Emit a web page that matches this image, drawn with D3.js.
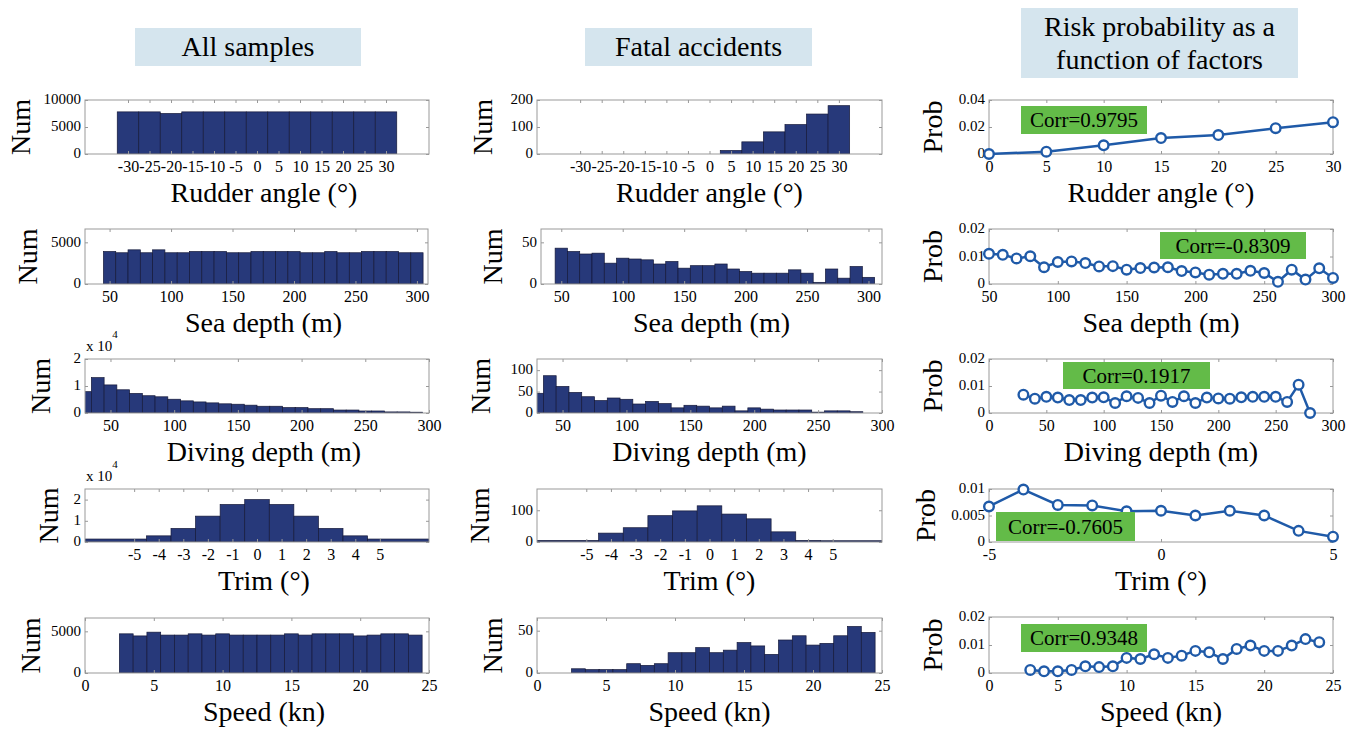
<!DOCTYPE html>
<html>
<head>
<meta charset="utf-8">
<script src="https://cdn.jsdelivr.net/npm/d3@7"></script>
<style>
  body { margin: 0; background: #fff; }
  svg { display: block; font-family: "Liberation Serif", "Times New Roman", serif; }
  svg text { font-family: "Liberation Serif", "Times New Roman", serif; }
</style>
</head>
<body>
<svg id="chart" width="1352" height="731"></svg>
<script>
// ---- datos ----
const headers = ["All samples", "Fatal accidents", ["Risk probability as a", "function of factors"]];
const xLabels = ["Rudder angle (°)", "Sea depth (m)", "Diving depth (m)", "Trim (°)", "Speed (kn)"];

const rudderCenters = [-30, -25, -20, -15, -10, -5, 0, 5, 10, 15, 20, 25, 30];
const rudderAll = [7800, 7800, 7500, 7800, 7800, 7800, 7800, 7800, 7800, 7800, 7800, 7800, 7800];
const rudderFatal = [0, 0, 0, 0, 0, 0, 0, 13, 45, 82, 109, 148, 179];

const seaCenters = [50, 60, 70, 80, 90, 100, 110, 120, 130, 140, 150, 160, 170, 180, 190, 200, 210, 220, 230, 240, 250, 260, 270, 280, 290, 300];
const seaAll = [3900, 3750, 4100, 3750, 4100, 3750, 3750, 3900, 3900, 3900, 3750, 3750, 3900, 3900, 3900, 3900, 3750, 3750, 3900, 3750, 3750, 3900, 3900, 3900, 3750, 3750];
const seaFatal = [43, 39, 36, 37, 25, 31, 30, 29, 24, 27, 19, 22, 22, 24, 18, 15, 13, 13, 13, 17, 13, 2, 18, 7, 21, 8];

const divingCenters = [30, 40, 50, 60, 70, 80, 90, 100, 110, 120, 130, 140, 150, 160, 170, 180, 190, 200, 210, 220, 230, 240, 250, 260, 270, 280, 290];
const divingAll = [7900, 13100, 10400, 8600, 7250, 6400, 6000, 5100, 4500, 4100, 3750, 3400, 3250, 2900, 2500, 2500, 2000, 2000, 1600, 1600, 1100, 1100, 750, 750, 400, 400, 300];
const divingFatal = [46, 87, 62, 48, 38, 29, 35, 32, 21, 27, 22, 12, 18, 16, 12, 16, 5, 12, 9, 7, 7, 7, 2, 5, 5, 3, 0];

const trimEdges = [-7, -4.5, -3.5, -2.5, -1.5, -0.5, 0.5, 1.5, 2.5, 3.5, 4.5, 7];
const trimAll = [1400, 2900, 6400, 12200, 17700, 20000, 17700, 12200, 6400, 2900, 1400];
const trimFatal = [5, 28, 45, 83, 98, 114, 88, 73, 32, 5, 4];

const speedCenters = [3, 4, 5, 6, 7, 8, 9, 10, 11, 12, 13, 14, 15, 16, 17, 18, 19, 20, 21, 22, 23, 24];
const speedAll = [4700, 4450, 4900, 4550, 4550, 4700, 4550, 4700, 4550, 4550, 4550, 4550, 4700, 4550, 4700, 4700, 4700, 4450, 4550, 4700, 4700, 4550];
const speedFatal = [5, 4, 4, 4, 11, 9, 11, 24, 24, 30, 24, 27, 36, 32, 22, 39, 44, 33, 35, 44, 55, 48];

const rudderProbX = [0, 5, 10, 15, 20, 25, 30];
const rudderProb = [0, 0.0017, 0.0064, 0.0118, 0.014, 0.0191, 0.0236];
const seaProbX = [50, 60, 70, 80, 90, 100, 110, 120, 130, 140, 150, 160, 170, 180, 190, 200, 210, 220, 230, 240, 250, 260, 270, 280, 290, 300];
const seaProb = [0.011, 0.0106, 0.0093, 0.0101, 0.0061, 0.008, 0.0082, 0.0076, 0.0064, 0.0065, 0.0052, 0.0058, 0.006, 0.0061, 0.0047, 0.0042, 0.0034, 0.0037, 0.0037, 0.0048, 0.004, 0.0008, 0.0052, 0.0016, 0.0057, 0.0022];
const divingProbX = [30, 40, 50, 60, 70, 80, 90, 100, 110, 120, 130, 140, 150, 160, 170, 180, 190, 200, 210, 220, 230, 240, 250, 260, 270, 280];
const divingProb = [0.0068, 0.0053, 0.006, 0.0057, 0.0048, 0.0048, 0.0057, 0.0058, 0.0037, 0.0062, 0.0056, 0.0037, 0.0064, 0.0041, 0.0062, 0.0037, 0.0057, 0.0054, 0.0053, 0.0058, 0.006, 0.006, 0.006, 0.0041, 0.0105, 0];
const trimProbX = [-5, -4, -3, -2, -1, 0, 1, 2, 3, 4, 5];
const trimProb = [0.0067, 0.0099, 0.007, 0.0069, 0.0058, 0.0059, 0.005, 0.0059, 0.005, 0.0021, 0.001];
const speedProbX = [3, 4, 5, 6, 7, 8, 9, 10, 11, 12, 13, 14, 15, 16, 17, 18, 19, 20, 21, 22, 23, 24];
const speedProb = [0.0011, 0.0006, 0.0006, 0.0011, 0.0024, 0.0021, 0.0024, 0.0054, 0.005, 0.0067, 0.0054, 0.0062, 0.0079, 0.0074, 0.005, 0.0086, 0.0098, 0.0079, 0.0079, 0.0098, 0.0121, 0.011];

const corrLabels = ["Corr=0.9795", "Corr=-0.8309", "Corr=0.1917", "Corr=-0.7605", "Corr=0.9348"];

// ---- estilos y posiciones ----
const FUENTE = "Liberation Serif";
const COLOR_BARRA = "#27397a";
const COLOR_LINEA = "#1f5aa8";
const COLOR_CAJA = "#999";
const COLOR_CORR = "#63bb48";
const COLOR_TITULO = "#d5e5ee";

const svg = d3.select("#chart");

function binsFromCenters(centers, values, w) {
  return centers.map((c, i) => ({ x0: c - w / 2, x1: c + w / 2, v: values[i] }));
}
function binsFromEdges(edges, values) {
  return values.map((v, i) => ({ x0: edges[i], x1: edges[i + 1], v }));
}
function pointsFrom(xs, ys) {
  return xs.map((x, i) => ({ x, y: ys[i] }));
}

const rows = [[100, 154], [229, 284], [359, 413], [489, 542], [618, 673]];
const cols = [[85, 429], [537, 882], [989, 1333]];
const yLabelX = [[30, 37, 50, 58, 40], [492, 502, 490, 489, 502], [942, 942, 942, 935, 942]];
const xLabelShift = [7, 0, 0];
const corrBoxes = [
  [1021, 106, 126, 28], [1160, 232, 146, 27], [1063, 362, 147, 27], [996, 512, 139, 29], [1021, 624, 126, 28]
];

const xTicksRow = [
  [-30, -25, -20, -15, -10, -5, 0, 5, 10, 15, 20, 25, 30],
  [50, 100, 150, 200, 250, 300],
  [50, 100, 150, 200, 250, 300],
  [-5, -4, -3, -2, -1, 0, 1, 2, 3, 4, 5],
  [0, 5, 10, 15, 20, 25]
];

const panels = [
  // columna 1
  { c: 0, r: 0, xd: [-40, 40], yd: [0, 10000], yt: [0, 5000, 10000], bins: binsFromCenters(rudderCenters, rudderAll, 5) },
  { c: 0, r: 1, xd: [30, 309], yd: [0, 6600], yt: [0, 5000], bins: binsFromCenters(seaCenters, seaAll, 10), right: 428 },
  { c: 0, r: 2, xd: [30, 300], yd: [0, 20000], yt: [0, 10000, 20000], exp: 4, bins: binsFromCenters(divingCenters, divingAll, 10) },
  { c: 0, r: 3, xd: [-7, 7], yd: [0, 25000], yt: [0, 10000, 20000], exp: 4, bins: binsFromEdges(trimEdges, trimAll) },
  { c: 0, r: 4, xd: [0, 25], yd: [0, 6600], yt: [0, 5000], bins: binsFromCenters(speedCenters, speedAll, 1) },
  // columna 2
  { c: 1, r: 0, xd: [-40, 40], yd: [0, 200], yt: [0, 100, 200], bins: binsFromCenters(rudderCenters, rudderFatal, 5) },
  { c: 1, r: 1, xd: [33.5, 311], yd: [0, 66], yt: [0, 50], bins: binsFromCenters(seaCenters, seaFatal, 10), left: 541 },
  { c: 1, r: 2, xd: [30, 300], yd: [0, 126], yt: [0, 50, 100], bins: binsFromCenters(divingCenters, divingFatal, 10) },
  { c: 1, r: 3, xd: [-7, 7], yd: [0, 167], yt: [0, 100], bins: binsFromEdges(trimEdges, trimFatal) },
  { c: 1, r: 4, xd: [0, 25], yd: [0, 65], yt: [0, 50], bins: binsFromCenters(speedCenters, speedFatal, 1) },
  // columna 3
  { c: 2, r: 0, xd: [0, 30], yd: [0, 0.04], yt: [0, 0.02, 0.04], xt: [0, 5, 10, 15, 20, 25, 30], pts: pointsFrom(rudderProbX, rudderProb) },
  { c: 2, r: 1, xd: [50, 300], yd: [0, 0.02], yt: [0, 0.01, 0.02], pts: pointsFrom(seaProbX, seaProb) },
  { c: 2, r: 2, xd: [0, 300], yd: [0, 0.02], yt: [0, 0.01, 0.02], xt: [0, 50, 100, 150, 200, 250, 300], pts: pointsFrom(divingProbX, divingProb) },
  { c: 2, r: 3, xd: [-5, 5], yd: [0, 0.01], yt: [0, 0.005, 0.01], xt: [-5, 0, 5], pts: pointsFrom(trimProbX, trimProb) },
  { c: 2, r: 4, xd: [0, 25], yd: [0, 0.02], yt: [0, 0.01, 0.02], pts: pointsFrom(speedProbX, speedProb), top: 617 }
];

// ---- encabezados ----
function dibujarEncabezados() {
  const cajas = [[135, 28, 226, 38], [585, 28, 227, 38], [1021, 8, 277, 70]];
  cajas.forEach((b, i) => {
    svg.append("rect")
      .attr("x", b[0]).attr("y", b[1]).attr("width", b[2]).attr("height", b[3])
      .attr("fill", COLOR_TITULO);
    const txt = svg.append("text")
      .attr("text-anchor", "middle")
      .attr("font-size", 28)
      .attr("x", b[0] + b[2] / 2);
    if (Array.isArray(headers[i])) {
      txt.append("tspan").attr("x", b[0] + b[2] / 2).attr("y", 36).text(headers[i][0]);
      txt.append("tspan").attr("x", b[0] + b[2] / 2).attr("y", 69).text(headers[i][1]);
    } else {
      txt.attr("y", 56).text(headers[i]);
    }
  });
}

function dibujarPanel(p, idx) {
  const x0 = p.left || cols[p.c][0];
  const x1 = p.right || cols[p.c][1];
  const y0 = p.top || rows[p.r][0];
  const y1 = rows[p.r][1];

  const x = d3.scaleLinear().domain(p.xd).range([x0, x1]);
  const y = d3.scaleLinear().domain(p.yd).range([y1, y0]);
  const xt = p.xt || xTicksRow[p.r];
  const fmtY = p.exp ? (d => String(d / Math.pow(10, p.exp))) : (d => String(d));

  const g = svg.append("g");

  if (p.bins) {
    const clipId = "clip" + idx;
    svg.append("clipPath").attr("id", clipId)
      .append("rect").attr("x", x0).attr("y", y0).attr("width", x1 - x0).attr("height", y1 - y0);

    g.append("g")
      .attr("clip-path", `url(#${clipId})`)
      .selectAll("rect")
      .data(p.bins.filter(d => d.v > 0))
      .join("rect")
      .attr("x", d => x(d.x0))
      .attr("width", d => x(d.x1) - x(d.x0))
      .attr("y", d => y(d.v))
      .attr("height", d => y(0) - y(d.v))
      .attr("fill", COLOR_BARRA)
      .attr("stroke", "#15193a")
      .attr("stroke-width", 0.7);
  }

  // ejes (marcas hacia dentro, estilo MATLAB)
  const abajo = g.append("g").attr("transform", `translate(0,${y1})`)
    .call(d3.axisBottom(x).tickValues(xt).tickSize(-3).tickSizeOuter(0).tickPadding(7).tickFormat(d => String(d)));
  const arriba = g.append("g").attr("transform", `translate(0,${y0})`)
    .call(d3.axisTop(x).tickValues(xt).tickSize(-3).tickSizeOuter(0).tickFormat(""));
  const izq = g.append("g").attr("transform", `translate(${x0},0)`)
    .call(d3.axisLeft(y).tickValues(p.yt).tickSize(-3).tickSizeOuter(0).tickPadding(4).tickFormat(fmtY));
  const der = g.append("g").attr("transform", `translate(${x1},0)`)
    .call(d3.axisRight(y).tickValues(p.yt).tickSize(-3).tickSizeOuter(0).tickFormat(""));

  [abajo, arriba, izq, der].forEach(a => {
    a.attr("font-family", FUENTE).attr("font-size", 16);
    a.select(".domain").remove();
    a.selectAll("line").attr("stroke", COLOR_CAJA);
    a.selectAll("text").attr("font-family", FUENTE).attr("font-size", 16).attr("fill", "#000");
  });
  izq.selectAll("text").attr("font-size", 15).attr("dy", "0.25em");

  g.append("rect")
    .attr("x", x0).attr("y", y0).attr("width", x1 - x0).attr("height", y1 - y0)
    .attr("fill", "none").attr("stroke", COLOR_CAJA).attr("stroke-width", 1);

  if (p.exp) {
    const t = g.append("text").attr("x", x0 + 1).attr("y", y0 - 8).attr("font-size", 15);
    t.append("tspan").text("x 10");
    t.append("tspan").attr("dy", -13).attr("font-size", 11).text(String(p.exp));
  }

  if (p.pts) {
    const linea = d3.line().x(d => x(d.x)).y(d => y(d.y));
    g.append("path")
      .datum(p.pts)
      .attr("d", linea)
      .attr("fill", "none")
      .attr("stroke", COLOR_LINEA)
      .attr("stroke-width", 2.5);
    g.selectAll("circle.pt")
      .data(p.pts)
      .join("circle")
      .attr("class", "pt")
      .attr("cx", d => x(d.x))
      .attr("cy", d => y(d.y))
      .attr("r", 4.8)
      .attr("fill", "#fff")
      .attr("stroke", COLOR_LINEA)
      .attr("stroke-width", 2.4);

    const b = corrBoxes[p.r];
    g.append("rect")
      .attr("x", b[0]).attr("y", b[1]).attr("width", b[2]).attr("height", b[3])
      .attr("fill", COLOR_CORR);
    g.append("text")
      .attr("x", b[0] + b[2] / 2).attr("y", b[1] + b[3] / 2 + 7)
      .attr("text-anchor", "middle").attr("font-size", 21)
      .text(corrLabels[p.r]);
  }

  // títulos de ejes
  g.append("text")
    .attr("text-anchor", "middle")
    .attr("font-size", 28)
    .attr("x", (x0 + x1) / 2 + xLabelShift[p.c])
    .attr("y", y1 + 48)
    .text(xLabels[p.r]);

  const cy = (y0 + y1) / 2;
  const lx = yLabelX[p.c][p.r];
  g.append("text")
    .attr("text-anchor", "middle")
    .attr("font-size", 28)
    .attr("transform", `translate(${lx},${cy}) rotate(-90)`)
    .text(p.c === 2 ? "Prob" : "Num");
}

dibujarEncabezados();
panels.forEach(dibujarPanel);
</script>
</body>
</html>
